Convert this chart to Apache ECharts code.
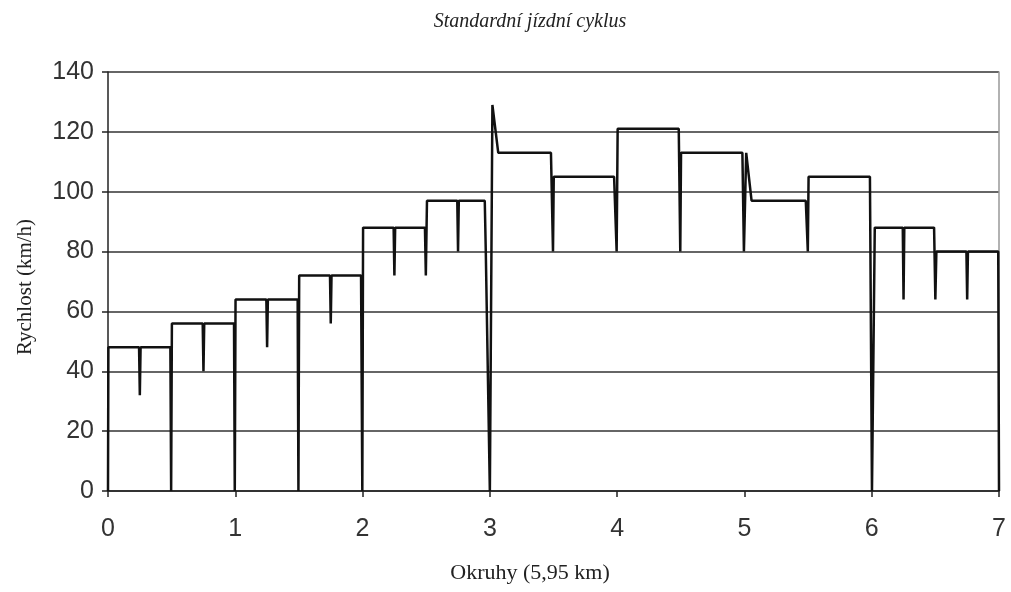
<!DOCTYPE html>
<html>
<head>
<meta charset="utf-8">
<script src="https://cdn.jsdelivr.net/npm/echarts@6/dist/echarts.min.js"></script>
<style>
html,body{margin:0;padding:0;background:#fff;}
#chart{width:1011px;height:592px;}
</style>
</head>
<body>
<div id="chart"></div>
<script>
// Distance in laps (Okruhy) and speed (km/h)
const distance = [
  0.000, 0.003, 0.244, 0.250, 0.256, 0.490, 0.496, 0.502,
  0.744, 0.750, 0.756, 0.990, 0.996, 1.002,
  1.244, 1.250, 1.256, 1.490, 1.496, 1.502,
  1.744, 1.750, 1.756, 1.988, 1.998, 2.004,
  2.244, 2.250, 2.256, 2.490, 2.497, 2.506,
  2.744, 2.750, 2.756, 2.960, 2.968, 3.000, 3.020, 3.066,
  3.480, 3.496, 3.502, 3.976, 3.996, 4.004,
  4.484, 4.496, 4.502, 4.984, 4.996, 5.014, 5.056,
  5.482, 5.498, 5.504, 5.986, 6.002, 6.024,
  6.244, 6.250, 6.256, 6.490, 6.500, 6.508,
  6.744, 6.750, 6.756, 6.994, 7.000
];
const speed = [
  0, 48, 48, 32, 48, 48, 0, 56,
  56, 40, 56, 56, 0, 64,
  64, 48, 64, 64, 0, 72,
  72, 56, 72, 72, 0, 88,
  88, 72, 88, 88, 72, 97,
  97, 80, 97, 97, 80, 0, 129, 113,
  113, 80, 105, 105, 80, 121,
  121, 80, 113, 113, 80, 113, 97,
  97, 80, 105, 105, 0, 88,
  88, 64, 88, 88, 64, 80,
  80, 64, 80, 80, 0
];
const xTicks = [0, 1, 2, 3, 4, 5, 6, 7];
const yTicks = [0, 20, 40, 60, 80, 100, 120, 140];

const titleText = 'Standardní jízdní cyklus';
const yName = 'Rychlost (km/h)';
const xName = 'Okruhy (5,95 km)';

const chart = echarts.init(document.getElementById('chart'), null, {renderer: 'canvas'});
const pts = distance.map((d, i) => [d, speed[i]]);

chart.setOption({
  animation: false,
  backgroundColor: '#ffffff',
  grid: {left: 108, right: 12, top: 72, bottom: 101, containLabel: false},
  xAxis: {
    type: 'value',
    min: xTicks[0], max: xTicks[xTicks.length - 1], interval: 1,
    axisLine: {show: true, onZero: false, lineStyle: {color: '#222', width: 1.5}},
    axisTick: {show: true, length: 6, inside: false, lineStyle: {color: '#222', width: 1.5}},
    axisLabel: {fontFamily: 'Liberation Sans, Arial, sans-serif', fontSize: 25, color: '#333', margin: 26},
    splitLine: {show: false}
  },
  yAxis: [{
    type: 'value',
    min: yTicks[0], max: yTicks[yTicks.length - 1], interval: 20,
    axisLine: {show: true, lineStyle: {color: '#222', width: 1.5}},
    axisTick: {show: true, length: 6, inside: false, lineStyle: {color: '#222', width: 1.5}},
    axisLabel: {fontFamily: 'Liberation Sans, Arial, sans-serif', fontSize: 25, color: '#333', margin: 14},
    splitLine: {show: true, lineStyle: {color: '#333', width: 1.5}}
  }, {
    type: 'value', position: 'right',
    min: yTicks[0], max: yTicks[yTicks.length - 1], interval: 20,
    axisLine: {show: true, lineStyle: {color: '#999', width: 1.5}},
    axisTick: {show: false}, axisLabel: {show: false}, splitLine: {show: false}
  }],
  graphic: [
    {type: 'text', x: 530, y: 22,
      style: {text: titleText, font: 'italic 20px "Liberation Serif", "DejaVu Serif", serif', fill: '#222',
        textAlign: 'center', textVerticalAlign: 'middle'}},
    {type: 'text', x: 25, y: 287, rotation: Math.PI / 2,
      style: {text: yName, font: '21px "Liberation Serif", "DejaVu Serif", serif', fill: '#222',
        textAlign: 'center', textVerticalAlign: 'middle'}},
    {type: 'text', x: 530, y: 573,
      style: {text: xName, font: '22px "Liberation Serif", "DejaVu Serif", serif', fill: '#222',
        textAlign: 'center', textVerticalAlign: 'middle'}}
  ],
  series: [{
    type: 'line',
    data: pts,
    showSymbol: false,
    symbol: 'none',
    lineStyle: {color: '#111', width: 2.5},
    z: 5
  }]
});
</script>
</body>
</html>
